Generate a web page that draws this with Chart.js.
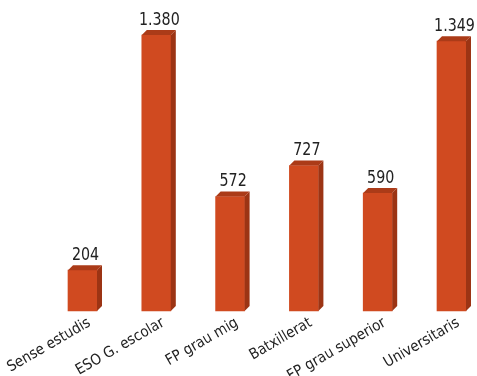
<!DOCTYPE html>
<html>
<head>
<meta charset="utf-8">
<script src="https://cdn.jsdelivr.net/npm/chart.js@4/dist/chart.umd.min.js"></script>
<style>
  html, body { margin: 0; padding: 0; background: #fff; }
  #c { display: block; }
</style>
</head>
<body>
<canvas id="c" width="477" height="376"></canvas>
<script>
const categories = ['Sense estudis', 'ESO G. escolar', 'FP grau mig', 'Batxillerat', 'FP grau superior', 'Universitaris'];
const values = [204, 1380, 572, 727, 590, 1349];

const FONT = "'Liberation Sans Narrow', 'DejaVu Sans Condensed', 'Roboto', sans-serif";
const FRONT = '#d04a20';
const SIDE = '#9c3414';
const TOP = '#ab3b18';
const DEPTH = 5;

// punt com a separador de milers
function fmt(v) {
    return String(v).replace(/\B(?=(\d{3})+(?!\d))/g, '.');
}

// cara lateral, cara superior i etiqueta de valor
const bars3d = {
    id: 'bars3d',
    afterDatasetsDraw(chart) {
        const ctx = chart.ctx;
        const meta = chart.getDatasetMeta(0);
        ctx.save();
        meta.data.forEach((bar, i) => {
            const { x, y, base, width } = bar.getProps(['x', 'y', 'base', 'width'], true);
            const l = x - width / 2, r = x + width / 2;
            ctx.fillStyle = SIDE;
            ctx.beginPath();
            ctx.moveTo(r, y);
            ctx.lineTo(r + DEPTH, y - DEPTH);
            ctx.lineTo(r + DEPTH, base - DEPTH);
            ctx.lineTo(r, base);
            ctx.closePath();
            ctx.fill();
            ctx.fillStyle = TOP;
            ctx.beginPath();
            ctx.moveTo(l, y);
            ctx.lineTo(l + DEPTH, y - DEPTH);
            ctx.lineTo(r + DEPTH, y - DEPTH);
            ctx.lineTo(r, y);
            ctx.closePath();
            ctx.fill();

            // text una mica estret, com la font condensada de l'original
            ctx.fillStyle = '#222';
            ctx.font = '18px ' + FONT;
            ctx.textAlign = 'center';
            ctx.textBaseline = 'bottom';
            ctx.save();
            ctx.translate(x + 3, y - DEPTH - 1);
            ctx.scale(0.88, 1);
            ctx.fillText(fmt(values[i]), 0, 0);
            ctx.restore();
        });
        ctx.restore();
    }
};

new Chart(document.getElementById('c'), {
    type: 'bar',
    data: {
        labels: categories,
        datasets: [{
            data: values,
            backgroundColor: FRONT,
            borderWidth: 0,
            barThickness: 29,
            clip: false
        }]
    },
    options: {
        responsive: false,
        animation: false,
        layout: { padding: { top: 31, left: 82.5, right: 25.5, bottom: 0 } },
        plugins: {
            legend: { display: false },
            tooltip: { enabled: false }
        },
        scales: {
            x: {
                offset: false,
                grid: { display: false, drawTicks: false },
                border: { display: false },
                ticks: {
                    color: '#222',
                    font: { family: FONT, size: 15 },
                    minRotation: 30,
                    maxRotation: 30,
                    padding: 3,
                    labelOffset: 7,
                    autoSkip: false
                },
                afterFit(scale) {
                    scale.height = 65;
                    scale.paddingLeft = 0;
                    scale.paddingRight = 0;
                }
            },
            y: {
                display: false,
                min: 0,
                max: 1400
            }
        }
    },
    plugins: [bars3d]
});
</script>
</body>
</html>
